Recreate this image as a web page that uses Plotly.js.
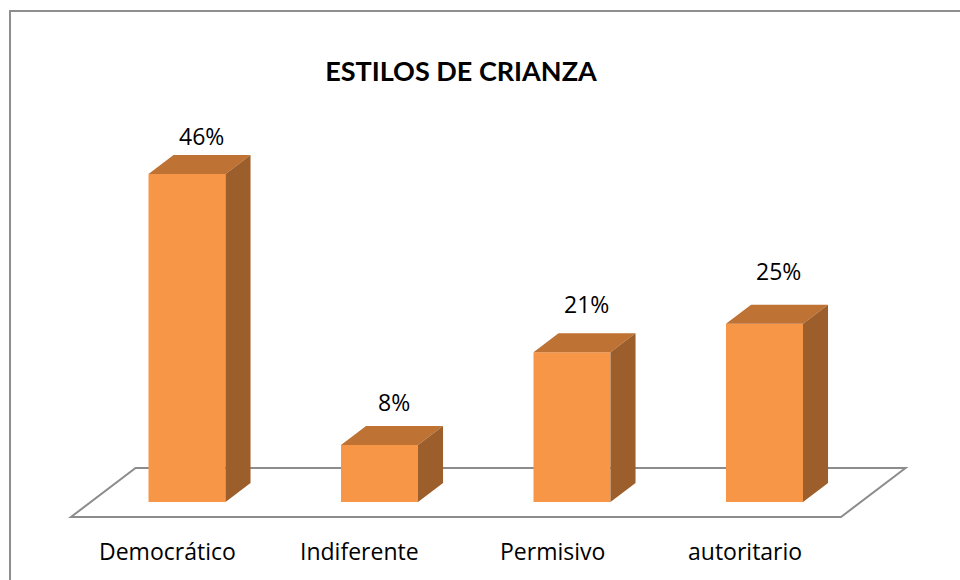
<!DOCTYPE html>
<html>
<head>
<meta charset="utf-8">
<script src="https://cdn.plot.ly/plotly-3.0.1.min.js"></script>
<style>html,body{margin:0;padding:0;background:#fff;}#chart{width:960px;height:580px;}</style>
</head>
<body>
<div id="chart"></div>
<script>
// ---- data ----
const categories = ["Democrático", "Indiferente", "Permisivo", "autoritario"];
const values = [46, 8, 21, 25];
const valueLabels = ["46%", "8%", "21%", "25%"];
const chartTitle = "ESTILOS DE CRIANZA";

// ---- style / 3D projection constants ----
const FRONT = "#F79646", TOP = "#BE7234", SIDE = "#9C5E2B";
const BAR_W = 0.4;          // bar width in category units
const DDX = 0.13;           // depth offset in x (category units)
const DDY = 2.66;           // depth offset in y (value units)
const FLOOR_FRONT = 0.79, FLOOR_BACK = 1.79; // floor extent in bar depths
const TITLE_FONT = "Lato, 'Open Sans', sans-serif";
const FONT = "'Open Sans', Lato, sans-serif";

const idx = categories.map((_, i) => i);
const n = categories.length;

// top faces and side faces built from the values
const topX = [], topY = [], sideX = [], sideY = [];
values.forEach((v, i) => {
  const l = i - BAR_W / 2, r = i + BAR_W / 2;
  topX.push(l, r, r + DDX, l + DDX, l, null);
  topY.push(v, v, v + DDY, v + DDY, v, null);
  sideX.push(r, r, r + DDX, r + DDX, r, null);
  sideY.push(0, v, v + DDY, DDY, 0, null);
});

const traces = [
  { type: "bar", x: idx, y: values, width: BAR_W, marker: { color: FRONT, line: { width: 0 } }, hoverinfo: "skip" },
  { type: "scatter", mode: "lines", x: topX, y: topY, fill: "toself", fillcolor: TOP, line: { width: 0, color: TOP }, hoverinfo: "skip" },
  { type: "scatter", mode: "lines", x: sideX, y: sideY, fill: "toself", fillcolor: SIDE, line: { width: 0, color: SIDE }, hoverinfo: "skip" }
];

// floor outline
const x0 = -0.5, x1 = n - 0.5;
const fy0 = -FLOOR_FRONT * DDY, fy1 = FLOOR_BACK * DDY;
const floorPath = `M ${x0 - FLOOR_FRONT * DDX} ${fy0} L ${x1 - FLOOR_FRONT * DDX} ${fy0} L ${x1 + FLOOR_BACK * DDX} ${fy1} L ${x0 + FLOOR_BACK * DDX} ${fy1} Z`;

const annotations = [];
categories.forEach((c, i) => {
  annotations.push({ x: i, y: -6.87, xref: "x", yref: "y", text: c, showarrow: false,
    xanchor: "center", yanchor: "middle", xshift: -20, font: { family: FONT, size: 23, color: "#000" } });
  annotations.push({ x: i, y: values[i] + DDY, xref: "x", yref: "y", text: valueLabels[i], showarrow: false,
    xanchor: "center", yanchor: "middle", xshift: 14, yshift: 19 + 5 * i, font: { family: FONT, size: 23, color: "#000" } });
});

const layout = {
  width: 960, height: 580,
  margin: { l: 0, r: 0, t: 0, b: 0, pad: 0 },
  paper_bgcolor: "#fff", plot_bgcolor: "#fff",
  showlegend: false,
  title: { text: "<b>" + chartTitle + "</b>", x: 461 / 960, y: 1 - 72 / 580, xanchor: "center", yanchor: "middle",
    font: { family: TITLE_FONT, size: 27, color: "#000" } },
  xaxis: { range: [-187 / 192.5, (960 - 187) / 192.5], visible: false, fixedrange: true },
  yaxis: { range: [(502 - 580) / 7.13, 502 / 7.13], visible: false, fixedrange: true },
  shapes: [
    { type: "path", xref: "x", yref: "y", path: floorPath, layer: "below", line: { color: "#8C8C8C", width: 2 }, fillcolor: "rgba(0,0,0,0)" },
    { type: "rect", xref: "paper", yref: "paper", x0: 10 / 960, x1: 1.02, y0: 1 - 11 / 580, y1: -0.02, layer: "above", line: { color: "#8E8E8E", width: 2 }, fillcolor: "rgba(0,0,0,0)" }
  ],
  annotations: annotations
};

Plotly.newPlot("chart", traces, layout, { displayModeBar: false, staticPlot: true });
</script>
</body>
</html>
